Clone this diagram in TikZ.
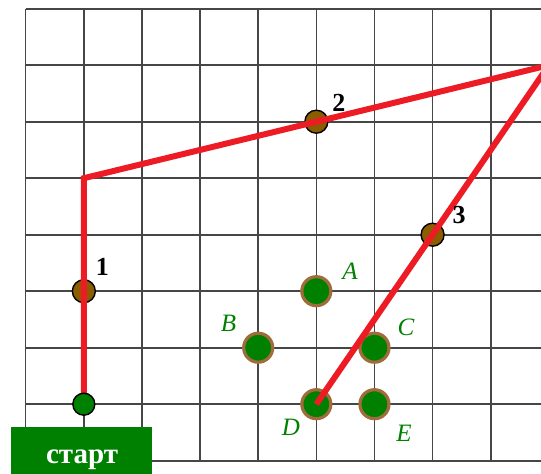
\documentclass[tikz,border=0pt]{standalone}
\usepackage{fontspec}
\setmainfont{Liberation Serif}
\definecolor{gridc}{RGB}{70,70,70}
\definecolor{routec}{RGB}{237,28,36}
\definecolor{dotgreen}{RGB}{0,128,0}
\definecolor{dotbrown}{RGB}{140,92,0}
\definecolor{ringbrown}{RGB}{160,108,60}
\tikzset{
  gridline/.style={draw=gridc, line width=1.6pt},
  route/.style={draw=routec, line width=6pt, line join=miter},
  waypt/.style={circle, fill=dotbrown, draw=black, line width=1.4pt, minimum size=23pt, inner sep=0pt},
  target/.style={circle, fill=dotgreen, draw=ringbrown, line width=3.2pt, minimum size=29pt, inner sep=0pt},
  startpt/.style={circle, fill=dotgreen, draw=black, line width=1.4pt, minimum size=22pt, inner sep=0pt},
  numlab/.style={font=\fontsize{26}{28}\selectfont\bfseries, text=black, inner sep=0pt},
  letlab/.style={font=\fontsize{25}{27}\selectfont\itshape, text=dotgreen, inner sep=0pt},
  startbox/.style={fill=dotgreen, draw=none}
}
\begin{document}
\begin{tikzpicture}[x=58.125pt, y=-56.5pt]
\useasboundingbox (-25.7pt,8.7pt) rectangle (515.3pt,-465.3pt);
\begin{scope}
\clip (-25.7pt,8.7pt) rectangle (515.3pt,-465.3pt);
% grid
\foreach \i in {0,...,9} \draw[gridline] (\i,0) -- (\i,8);
\foreach \j in {0,...,8} \draw[gridline] (0,\j) -- (9.5,\j);
% points
\node[waypt] (p1) at (1,5) {};
\node[waypt] (p2) at (5,2) {};
\node[waypt] (p3) at (7,4) {};
\node[target] (A) at (5,5) {};
\node[target] (B) at (4,6) {};
\node[target] (C) at (6,6) {};
\node[target] (D) at (5,7) {};
\node[target] (E) at (6,7) {};
\coordinate (s) at (1,7);
\coordinate (corner) at (1,3);
\coordinate (apex) at (9,1);
\draw[route] (s) -- (corner) -- (apex) -- (D.center);
\node[startpt] (start) at (s) {};
\end{scope}
% start box
\fill[startbox] (-0.258,7.409) rectangle (2.178,8.35);
\node[font=\fontsize{29}{30}\selectfont\bfseries, text=white, inner sep=0pt, anchor=base] (st) at (0.969,8.058) {старт};
% labels
\node[numlab] (l1) at (1.321,4.572) {1};
\node[numlab] (l2) at (5.390,1.669) {2};
\node[numlab] (l3) at (7.455,3.651) {3};
\node[letlab] (lA) at (5.580,4.655) {A};
\node[letlab] (lB) at (3.489,5.563) {B};
\node[letlab] (lC) at (6.543,5.634) {C};
\node[letlab] (lD) at (4.564,7.412) {D};
\node[letlab] (lE) at (6.509,7.510) {E};
\end{tikzpicture}
\end{document}
